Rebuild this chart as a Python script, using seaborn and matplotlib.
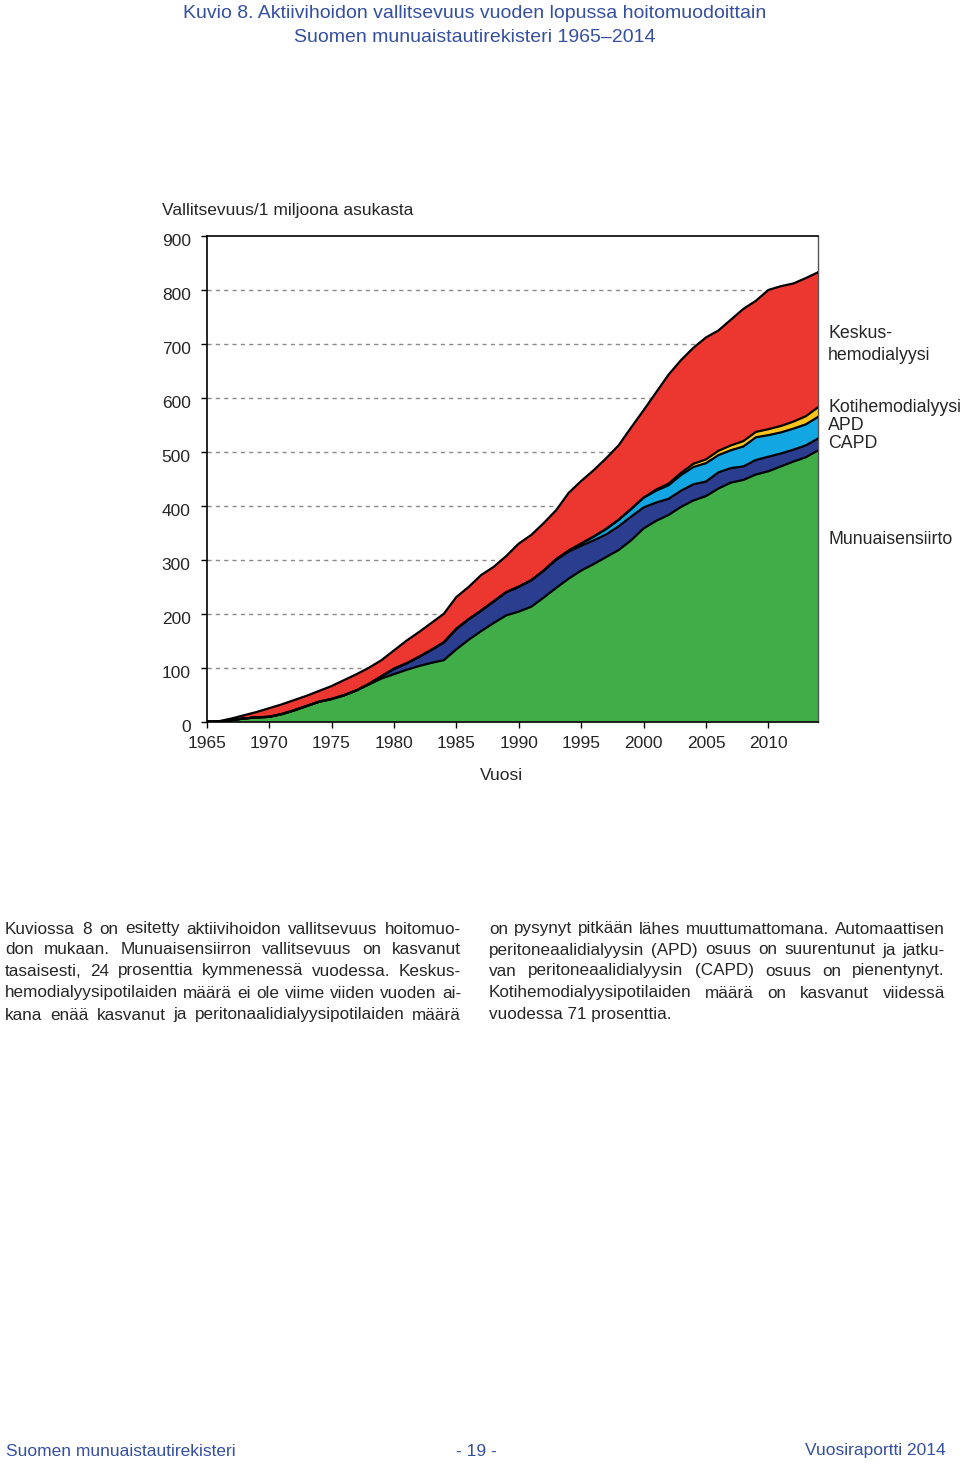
import matplotlib
matplotlib.use('Agg')
import matplotlib.pyplot as plt
import matplotlib.transforms as mtransforms
import numpy as np
import pandas as pd
import seaborn as sns

# Data (per million inhabitants, end of year)
years = list(range(1965, 2015))
munuaisensiirto = [0, 0, 3, 6, 8, 9, 14, 21, 29, 37,
                   42, 49, 58, 69, 80, 88, 96, 103, 109, 114,
                   134, 152, 168, 183, 197, 204, 213, 230, 248, 265,
                   280, 292, 305, 318, 336, 358, 372, 383, 398, 410,
                   418, 432, 443, 448, 458, 464, 473, 482, 490, 503]
capd = [0, 0, 0, 0, 0, 0, 0, 0, 0, 0,
        0, 0, 0, 1, 4, 10, 12, 17, 24, 33,
        38, 38, 38, 40, 43, 46, 49, 50, 52, 50,
        46, 44, 42, 44, 44, 39, 34, 30, 30, 30,
        27, 30, 27, 25, 27, 27, 24, 22, 22, 22]
apd = [0] * 28 + [1, 2, 4, 7, 10, 12, 14, 18, 22, 25, 29, 32,
                  34, 32, 33, 37, 42, 40, 39, 39, 39, 40]
kotihemodialyysi = [0] * 36 + [2, 3, 4, 6, 7, 8, 9, 10, 10, 11, 12, 13, 15, 18]
keskushemodialyysi = [0, 1, 3, 6, 10, 16, 18, 19, 19, 20,
                      24, 28, 30, 30, 30, 34, 42, 46, 50, 53,
                      59, 60, 66, 64, 67, 80, 84, 88, 91, 107,
                      116, 123, 131, 138, 151, 162, 180, 202, 209, 215,
                      226, 223, 233, 245, 243, 258, 259, 256, 256, 250]

layers = ['Munuaisensiirto', 'CAPD', 'APD', 'Kotihemodialyysi', 'Keskushemodialyysi']
colors = ['#41ad49', '#2a3d8f', '#12a6e2', '#f9c41c', '#eb372f']

sns.set_theme(style='white')
plt.rcParams['font.family'] = ['Liberation Sans', 'DejaVu Sans']

W, H = 960, 1463
fig = plt.figure(figsize=(W / 100, H / 100), dpi=100)
ax = fig.add_axes([206.7 / W, 1 - 721.7 / H, (818.3 - 206.7) / W, (721.7 - 236) / H])

series = [munuaisensiirto, capd, apd, kotihemodialyysi, keskushemodialyysi]
ax.stackplot(years, *series, colors=colors, edgecolor='none', zorder=2)

# boundary lines
cum = np.cumsum(np.array(series), axis=0)
df = pd.DataFrame({'year': years * len(layers),
                   'layer': np.repeat(layers, len(years)),
                   'top': cum.ravel()})
sns.lineplot(data=df, x='year', y='top', units='layer', estimator=None,
             color='black', linewidth=1.6, ax=ax, zorder=3)

ax.set_xlim(1965, 2014)
ax.set_ylim(0, 900)
ax.set_xticks(range(1965, 2015, 5))
ax.set_yticks(range(0, 1000, 100))
ax.set_xlabel('')
ax.set_ylabel('')
ax.tick_params(axis='both', direction='out', length=4.5, width=1, color='black',
               labelsize=12.5, pad=6, left=True, bottom=True)
ax.tick_params(axis='y', pad=7)
off = mtransforms.ScaledTranslation(0, -4 / 100, fig.dpi_scale_trans)
for lab in ax.get_yticklabels():
    lab.set_transform(lab.get_transform() + off)

for y in range(100, 900, 100):
    ax.axhline(y, color='#8a8a8a', linestyle=(0, (3, 3)), linewidth=1, zorder=1)

for side in ['left', 'bottom', 'top']:
    ax.spines[side].set_color('black')
    ax.spines[side].set_linewidth(1.2)
ax.spines['right'].set_color('#555555')
ax.spines['right'].set_linewidth(1)

def fx(x):
    return x / W

def fy(y):
    return 1 - y / H

fig.text(fx(162), fy(210), 'Vallitsevuus/1 miljoona asukasta', fontsize=12.5, ha='left', va='center')
fig.text(fx(501), fy(776), 'Vuosi', fontsize=12.5, ha='center', va='center')

# series labels on the right
lab_fs = 12.8
fig.text(fx(828), fy(334), 'Keskus-', fontsize=lab_fs, va='center')
fig.text(fx(828), fy(355), 'hemodialyysi', fontsize=lab_fs, va='center')
fig.text(fx(828), fy(407), 'Kotihemodialyysi', fontsize=lab_fs, va='center')
fig.text(fx(828), fy(426), 'APD', fontsize=lab_fs, va='center')
fig.text(fx(828), fy(444), 'CAPD', fontsize=lab_fs, va='center')
fig.text(fx(828), fy(540), 'Munuaisensiirto', fontsize=lab_fs, va='center')

title_color = '#3550a0'
fig.text(fx(475), fy(14), 'Kuvio 8. Aktiivihoidon vallitsevuus vuoden lopussa hoitomuodoittain',
         fontsize=14, color=title_color, ha='center', va='center')
fig.text(fx(475), fy(37), 'Suomen munuaistautirekisteri 1965\u20132014',
         fontsize=14, color=title_color, ha='center', va='center')

# body text, justified
left_col = ['Kuviossa 8 on esitetty aktiivihoidon vallitsevuus hoitomuo-',
            'don mukaan. Munuaisensiirron vallitsevuus on kasvanut',
            'tasaisesti, 24 prosenttia kymmenessä vuodessa. Keskus-',
            'hemodialyysipotilaiden määrä ei ole viime viiden vuoden ai-',
            'kana enää kasvanut ja peritonaalidialyysipotilaiden määrä']
right_col = ['on pysynyt pitkään lähes muuttumattomana. Automaattisen',
             'peritoneaalidialyysin (APD) osuus on suurentunut ja jatku-',
             'van peritoneaalidialyysin (CAPD) osuus on pienentynyt.',
             'Kotihemodialyysipotilaiden määrä on kasvanut viidessä',
             'vuodessa 71 prosenttia.']
line_y = [929, 950, 971, 993, 1015]
body_fs = 12.3

renderer = fig.canvas.get_renderer()

def justified(line, x0, x1, y, justify=True):
    words = line.split(' ')
    if not justify:
        fig.text(fx(x0), fy(y), line, fontsize=body_fs, va='center', ha='left')
        return
    objs = [fig.text(0, fy(y), w, fontsize=body_fs, va='center', ha='left') for w in words]
    widths = [o.get_window_extent(renderer).width for o in objs]
    gap = (x1 - x0 - sum(widths)) / max(len(words) - 1, 1)
    x = x0
    for o, w in zip(objs, widths):
        o.set_x(fx(x))
        x += w + gap

for i, (line, y) in enumerate(zip(left_col, line_y)):
    justified(line, 5, 461, y)
for i, (line, y) in enumerate(zip(right_col, line_y)):
    justified(line, 489, 945, y, justify=(i < len(right_col) - 1))

fig.text(fx(6), fy(1451), 'Suomen munuaistautirekisteri', fontsize=12.5, color=title_color, va='center')
fig.text(fx(476), fy(1451), '- 19 -', fontsize=12.5, color=title_color, va='center', ha='center')
fig.text(fx(946), fy(1451), 'Vuosiraportti 2014', fontsize=12.5, color=title_color, va='center', ha='right')

fig.savefig('out.png', dpi=100)
